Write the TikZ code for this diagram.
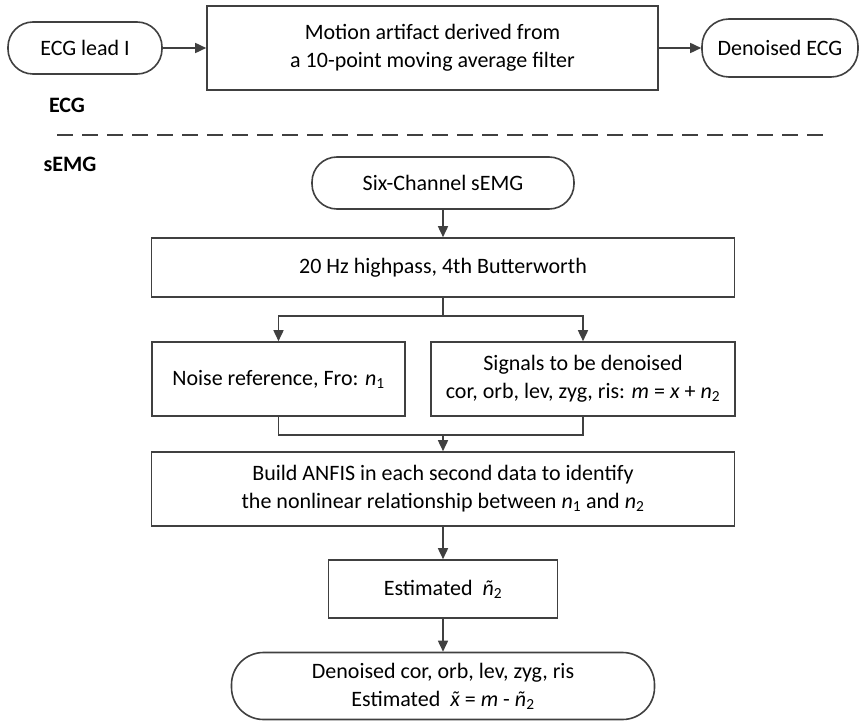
\documentclass[tikz,border=0pt]{standalone}
\usepackage{fontspec}
\setmainfont{Carlito}
\usetikzlibrary{arrows.meta}
\definecolor{lc}{HTML}{404040}
\newcommand\tildeacc[1]{{\accent"02DC #1}}
\begin{document}
\begin{tikzpicture}[x=1pt,y=-1pt,
  box/.style={draw=lc,line width=1.6pt,align=center,inner sep=0pt,
    font=\fontsize{22}{28}\selectfont,text=black},
  pill/.style={box,rounded corners=#1},
  arr/.style={draw=lc,line width=1.6pt,-{Triangle[length=11pt,width=10pt]}},
  ln/.style={draw=lc,line width=1.6pt},
  lbl/.style={font=\fontsize{22}{28}\selectfont\bfseries,inner sep=0pt,text=black},
  sep/.style={draw=lc,line width=1.6pt,dash pattern=on 16pt off 9pt}]
\useasboundingbox (0,0) rectangle (861,722);

% ECG row
\node[pill=25pt,minimum width=154pt,minimum height=52pt] (ecg) at (85,48) {ECG lead I};
\node[box,minimum width=451pt,minimum height=84pt] (motion) at (432.5,48)
  {Motion artifact derived from\\a 10-point moving average filter};
\node[pill=27pt,minimum width=156pt,minimum height=58pt] (decg) at (780,48) {Denoised ECG};
\draw[arr] (ecg) -- (motion);
\draw[arr] (motion) -- (decg);
\node[lbl] (lecg) at (67,105) {ECG};

% separator
\coordinate (s1) at (57,135);
\coordinate (s2) at (823,135);
\draw[sep] (s1) -- (s2);

% sEMG part
\node[lbl] (lsemg) at (70,164) {sEMG};
\node[pill=25pt,minimum width=262pt,minimum height=52pt] (six) at (443,183) {Six-Channel sEMG};
\node[box,minimum width=583pt,minimum height=59pt] (hp) at (443,267.5) {20 Hz highpass, 4th Butterworth};
\node[box,minimum width=253pt,minimum height=74pt] (noise) at (278.5,379)
  {Noise reference, Fro: \textit{n}\textsubscript{1}};
\node[box,minimum width=304pt,minimum height=74pt] (sig) at (583,379)
  {Signals to be denoised\\cor, orb, lev, zyg, ris: \textit{m} = \textit{x} + \textit{n}\textsubscript{2}};
\node[box,minimum width=583pt,minimum height=74pt] (build) at (443,489)
  {Build ANFIS in each second data to identify\\the nonlinear relationship between \textit{n}\textsubscript{1} and \textit{n}\textsubscript{2}};
\node[box,minimum width=229pt,minimum height=58pt] (est) at (443,589)
  {Estimated\ \ \textit{\~{n}}\textsubscript{2}};
\node[pill=32pt,minimum width=423pt,minimum height=67pt] (fin) at (443,686)
  {Denoised cor, orb, lev, zyg, ris\\Estimated\ \ \textit{\tildeacc{x}} = \textit{m} - \textit{\~{n}}\textsubscript{2}};

\coordinate (bsplit) at (443,316);
\coordinate (bmerge) at (443,435);
\draw[arr] (six) -- (hp);
\draw[ln] (hp) -- (bsplit);
\draw[arr] (bsplit) -| (noise);
\draw[arr] (bsplit) -| (sig);
\draw[ln] (noise) |- (bmerge);
\draw[ln] (sig) |- (bmerge);
\draw[arr] (bmerge) -- (build);
\draw[arr] (build) -- (est);
\draw[arr] (est) -- (fin);
\end{tikzpicture}
\end{document}
